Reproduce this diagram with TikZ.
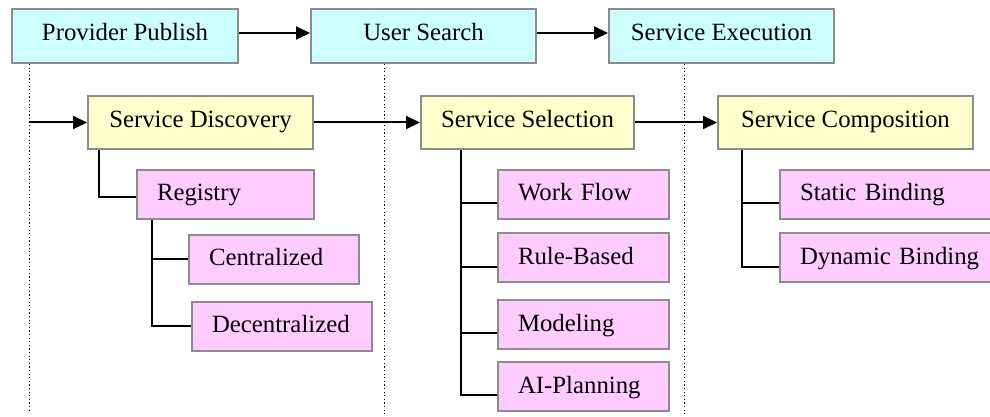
\documentclass[tikz,border=0pt]{standalone}
\usepackage{fontspec}
\setmainfont{Liberation Serif}
\usetikzlibrary{arrows.meta}
\definecolor{stagecyan}{HTML}{CCFFFF}
\definecolor{taskyellow}{HTML}{FFFFCC}
\definecolor{methodpink}{HTML}{FFCCFF}
\definecolor{boxgray}{HTML}{8C8C8C}
\begin{document}
\begin{tikzpicture}[x=0.5pt, y=-0.5pt,
   font=\rmfamily\fontsize{12.4}{15}\selectfont,
   stage/.style={draw=boxgray, line width=1pt, fill=stagecyan, inner sep=0pt,
      text height=0.66em, text depth=0.2em, minimum width=#1, minimum height=27pt},
   task/.style={draw=boxgray, line width=1pt, fill=taskyellow, inner sep=0pt,
      text height=0.66em, text depth=0.2em, minimum width=#1, minimum height=26.5pt},
   method/.style={draw=boxgray, line width=1pt, fill=methodpink, anchor=west,
      align=left, text width=#1, inner xsep=10pt, inner ysep=0pt,
      text height=0.66em, text depth=0pt, minimum height=24.5pt},
   link/.style={line width=1pt, -{Triangle[length=7pt,width=6.5pt]}},
   branch/.style={line width=1pt},
   lane/.style={line width=0.5pt, dash pattern=on 0.6pt off 1.2pt}]

   \useasboundingbox (0,0) rectangle (990,417);
   \clip (0,0) rectangle (990,417);

   \node (Publish) at (125,36) [stage=113pt] {Provider Publish};
   \node (Search) at (423.5,36) [stage=112.5pt] {User Search};
   \node (Execution) at (721.5,36) [stage=112.5pt] {Service Execution};

   \node (Discovery) at (200.5,122.5) [task=112.5pt] {Service Discovery};
   \node (Selection) at (527.5,122.5) [task=106.5pt] {Service Selection};
   \node (Composition) at (845.5,122.5) [task=127.5pt] {Service Composition};

   \node (Registry) at (136,194) [method=68.5pt] {Registry};
   \node (Centralized) at (188,259) [method=65pt] {Centralized};
   \node (Decentralized) at (191,326) [method=70pt] {Decentralized};

   \node (WorkFlow) at (497,194) [method=65.5pt] {Work Flow};
   \node (RuleBased) at (497,257.5) [method=65.5pt] {Rule-Based};
   \node (Modeling) at (497,324.5) [method=65.5pt] {Modeling};
   \node (AIPlanning) at (497,386.5) [method=65.5pt] {AI-Planning};

   \node (Static) at (779,194) [method=92.5pt] {Static Binding};
   \node (Dynamic) at (779,257.5) [method=92.5pt] {Dynamic Binding};

   \coordinate (PublishEnd) at (29,410);
   \coordinate (SearchEnd) at (384,415);
   \coordinate (ExecutionEnd) at (684,415);
   \coordinate (PublishTap) at (29,122.5);

   \draw [lane] (Publish.south -| PublishEnd) -- (PublishEnd);
   \draw [lane] (Search.south -| SearchEnd) -- (SearchEnd);
   \draw [lane] (Execution.south -| ExecutionEnd) -- (ExecutionEnd);

   \draw [link] ([yshift=1.5pt]Publish.east) -- ([yshift=1.5pt]Search.west);
   \draw [link] ([yshift=1.5pt]Search.east) -- ([yshift=1.5pt]Execution.west);
   \draw [link] (PublishTap) -- (Discovery.west);
   \draw [link] (Discovery.east) -- (Selection.west);
   \draw [link] (Selection.east) -- (Composition.west);

   \draw [branch] ([xshift=6pt]Discovery.south west) |- ([yshift=-1.5pt]Registry.west);
   \draw [branch] ([xshift=7.75pt]Registry.south west) |- (Centralized.west);
   \draw [branch] ([xshift=7.75pt]Registry.south west) |- (Decentralized.west);

   \draw [branch] ([xshift=20.5pt]Selection.south west) |- ([yshift=-4.5pt]WorkFlow.west);
   \draw [branch] ([xshift=20.5pt]Selection.south west) |- ([yshift=-4.5pt]RuleBased.west);
   \draw [branch] ([xshift=20.5pt]Selection.south west) |- ([yshift=-4pt]Modeling.west);
   \draw [branch] ([xshift=20.5pt]Selection.south west) |- ([yshift=-4pt]AIPlanning.west);

   \draw [branch] ([xshift=12.5pt]Composition.south west) |- ([yshift=-4.5pt]Static.west);
   \draw [branch] ([xshift=12.5pt]Composition.south west) |- ([yshift=-4.5pt]Dynamic.west);

\end{tikzpicture}
\end{document}
